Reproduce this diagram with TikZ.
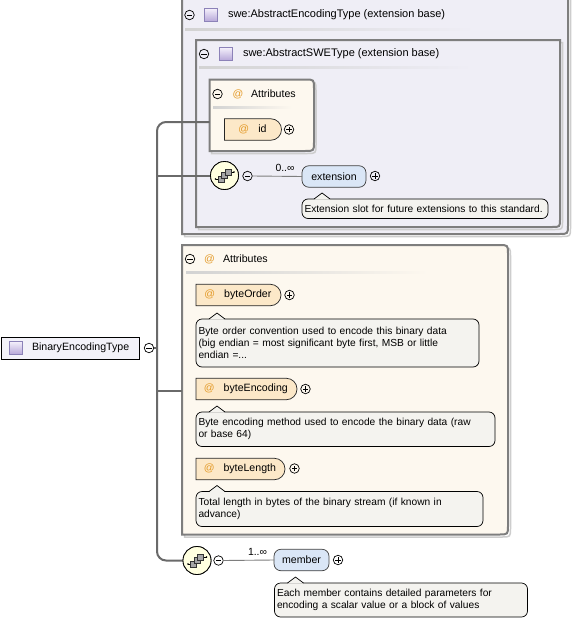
\documentclass[tikz,border=0pt]{standalone}
\usepackage{fontspec}
\setmainfont{Liberation Sans}
\usetikzlibrary{shapes.misc,calc}
\definecolor{lavbg}{HTML}{EFEEF6}
\definecolor{boxline}{HTML}{7E7E7E}
\definecolor{shadowc}{HTML}{CDCDCD}
\definecolor{creambg}{HTML}{FDF8EF}
\definecolor{attrfill}{HTML}{FCE8C8}
\definecolor{elemfill}{HTML}{DAE6F6}
\definecolor{comfill}{HTML}{F4F3EF}
\definecolor{seqfill}{HTML}{FFFFE0}
\definecolor{atcol}{HTML}{E49B2A}
\definecolor{lavlight}{HTML}{F4F0FB}
\definecolor{lavdark}{HTML}{B6A6D8}
\definecolor{lavedge}{HTML}{8C82B8}
\definecolor{trunkc}{HTML}{6A6A6A}
\definecolor{binfill}{HTML}{F3F2F9}
\newcommand\xBoxBR[6]{%
  \draw[#1] (#2,#3) -- (#4,#3) -- (#4,{#5-#6}) .. controls (#4,#5) .. ({#4-#6},#5) -- (#2,#5) -- cycle;}
\newcommand\xBoxR[6]{%
  \draw[#1] (#2,#3) -- ({#4-#6},#3) .. controls (#4,#3) .. (#4,{#3+#6}) -- (#4,{#5-#6}) .. controls (#4,#5) .. ({#4-#6},#5) -- (#2,#5) -- cycle;}
\newcommand\xSepW[4]{%
  \shade[left color=gray!35, middle color=gray!75, right color=#4] (#1,{#2-1}) rectangle (#3,{#2+1});}
\newcommand\xPointer[2]{% node, x offset
  \fill[comfill] ($(#1.north west)+(#2-8,0.6)$) -- ($(#1.north west)+(#2,-6)$) -- ($(#1.north west)+(#2+8,0.6)$) -- cycle;
  \draw[black, line width=0.7pt, line join=round] ($(#1.north west)+(#2-8,0)$) -- ($(#1.north west)+(#2,-6)$) -- ($(#1.north west)+(#2+8,0)$);}
\newcommand\xSeqIcon[1]{%
  \begin{scope}[shift={(#1.center)}]
    \draw[black, line width=0.8pt] (-9,3.5) -- (-4,3.5);
    \draw[black, line width=0.8pt] (4,-3.5) -- (9.5,-3.5);
    \fill[black] (-9,3.5) circle (0.9);
    \fill[black] (9.5,-3.5) circle (0.9);
    \draw[black!80, fill=gray!70, line width=0.5pt] (-6.5,0.5) rectangle (-0.5,6.5);
    \draw[black!80, fill=gray!70, line width=0.5pt] (-3,-3) rectangle (3,3);
    \draw[black!80, fill=gray!70, line width=0.5pt] (0.5,-6.5) rectangle (6.5,-0.5);
  \end{scope}}
\begin{document}
\begin{tikzpicture}[x=1pt,y=-1pt,
  font=\fontsize{10.6}{12.5}\selectfont,
  every node/.style={inner sep=0pt, outer sep=0pt},
  hdr/.style={anchor=west, font=\fontsize{11}{13}\selectfont},
  txt/.style={anchor=west},
  minusc/.style={circle, draw=black, line width=0.7pt, minimum size=9.5pt,
    path picture={\draw[line width=0.8pt] ([xshift=-2.6pt]path picture bounding box.center) -- ([xshift=2.6pt]path picture bounding box.center);}},
  plusc/.style={circle, draw=black, line width=0.7pt, minimum size=9.5pt,
    path picture={\draw[line width=0.8pt] ([xshift=-2.6pt]path picture bounding box.center) -- ([xshift=2.6pt]path picture bounding box.center)
      ([yshift=-2.6pt]path picture bounding box.center) -- ([yshift=2.6pt]path picture bounding box.center);}},
  sqicon/.style={rectangle, minimum size=13pt, draw=lavedge, line width=0.6pt, top color=lavlight, bottom color=lavdark},
  attrnode/.style={rounded rectangle, rounded rectangle west arc=none, draw=black!85, line width=0.7pt,
    fill=attrfill, minimum height=21.5pt},
  elemnode/.style={rectangle, rounded corners=7pt, draw=black!75, line width=0.7pt, fill=elemfill, minimum height=21.5pt},
  comnode/.style={rectangle, rounded corners=6pt, draw=black, line width=0.7pt, fill=comfill, align=left,
    anchor=north west, inner xsep=2.5pt, inner ysep=0pt, font=\fontsize{10.2}{12.2}\selectfont},
  seqnode/.style={circle, draw=black, line width=0.8pt, fill=seqfill, minimum size=28pt},
  trunk/.style={draw=trunkc, line width=2pt},
  thinconn/.style={draw=boxline, line width=0.9pt},
  card/.style={font=\fontsize{10.4}{12}\selectfont}
]
\useasboundingbox (0,0) rectangle (571,621);
\fill[white] (0,0) rectangle (571,621);

% ---------- outer box: swe:AbstractEncodingType ----------
\xBoxBR{shadowc, line width=1.5pt}{184.5}{-5}{570.5}{236.5}{9}
\xBoxBR{boxline, line width=2pt, fill=lavbg}{182}{-5}{568}{234}{9}
\node[minusc] (mo) at (189.5,15) {};
\node[sqicon] (so) at (211,15) {};
\node[hdr] (ho) at (228,15) {swe:AbstractEncodingType (extension base)};
\xSepW{185}{29}{475}{lavbg}

% ---------- inner box: swe:AbstractSWEType ----------
\xBoxBR{shadowc, line width=1.5pt}{198.5}{42.5}{562.5}{229.5}{8}
\xBoxBR{boxline, line width=2pt, fill=lavbg}{196}{40}{560}{227}{8}
\node[minusc] (mi) at (204,54) {};
\node[sqicon] (si) at (226,54) {};
\node[hdr] (hi) at (243,54) {swe:AbstractSWEType (extension base)};
\xSepW{199}{67}{472}{lavbg}

% ---------- attributes box 1 ----------
\xBoxR{shadowc, line width=1.5pt}{211.5}{81.5}{316}{153.5}{9}
\xBoxR{boxline, line width=2pt, fill=creambg}{209.5}{79.5}{314}{151}{9}
\node[minusc] (ma1) at (217.5,94) {};
\node[txt, text=atcol] (at1) at (232.5,94) {@};
\node[txt] (ha1) at (251,94) {Attributes};
\xSepW{213}{107}{292}{creambg}

% ---------- attributes box 2 ----------
\xBoxR{shadowc, line width=1.5pt}{184.5}{247.5}{510.5}{537}{9}
\xBoxR{boxline, line width=2pt, fill=creambg}{182}{245}{508}{534.5}{9}
\node[minusc] (ma2) at (190,259) {};
\node[txt, text=atcol] (at2) at (204,259) {@};
\node[txt] (ha2) at (223,259) {Attributes};
\xSepW{186}{272}{428}{creambg}

% ---------- root ----------
\node[rectangle, draw=black, line width=0.8pt, fill=binfill, minimum width=138pt, minimum height=22pt]
  (root) at (70,348) {};
\node[sqicon] (sr) at (15.5,348) {};
\node[txt] (rt) at (32,348) {BinaryEncodingType};
\node[minusc] (m0) at (149,348) {};

% ---------- trunk connectors ----------
\coordinate (tr) at (157,348);
\coordinate (a1in) at (209.5,122);
\coordinate (a2in) at (182,391);
\node[seqnode] (seq1) at (224.5,175.5) {};
\node[seqnode] (seq2) at (197,560.5) {};
\draw[trunk] (m0.east) -- (tr);
\draw[trunk, rounded corners=9pt] (tr) |- (a1in);
\draw[trunk, rounded corners=9pt] (tr) |- (seq2.west);
\draw[trunk] (tr |- seq1.west) -- (seq1.west);
\draw[trunk] (tr |- a2in) -- (a2in);
\node[seqnode] at (seq1) {};
\node[seqnode] at (seq2) {};
\xSeqIcon{seq1}
\xSeqIcon{seq2}

% ---------- id ----------
\node[attrnode, minimum width=57pt] (idn) at (252.5,129.5) {\textcolor{atcol}{@}\hspace{9pt}id\hspace{5pt}};
\node[plusc] (pid) at (289,129.5) {};

% ---------- extension ----------
\node[minusc] (ms1) at (247.5,176) {};
\node[elemnode, minimum width=64pt] (ext) at (334,176.5) {extension};
\node[plusc] (pext) at (375,176) {};
\draw[thinconn] (ms1.east) -- (ext.west);
\node[card] (c1) at (285,168) {0..∞};
\node[comnode, text width=241pt, minimum height=19.5pt] (cm1) at (302,199)
  {Extension slot for future extensions to this standard.};
\xPointer{cm1}{20}

% ---------- byteOrder ----------
\node[attrnode, minimum width=85pt, anchor=west] (bo) at (196,295) {\textcolor{atcol}{@}\hspace{9pt}byteOrder\hspace{2pt}};
\node[plusc] (pbo) at (289.5,295) {};
\node[comnode, text width=278pt, minimum height=48pt] (cm2) at (196,319)
  {Byte order convention used to encode this binary data\\(big endian = most significant byte first, MSB or little\\endian =...};
\xPointer{cm2}{21}

% ---------- byteEncoding ----------
\node[attrnode, minimum width=101pt, anchor=west] (be) at (196,389) {\textcolor{atcol}{@}\hspace{9pt}byteEncoding\hspace{2pt}};
\node[plusc] (pbe) at (305.5,389) {};
\node[comnode, text width=294pt, minimum height=34.5pt] (cm3) at (196,412)
  {Byte encoding method used to encode the binary data (raw\\or base 64)};
\xPointer{cm3}{21}

% ---------- byteLength ----------
\node[attrnode, minimum width=89pt, anchor=west] (bl) at (196,469) {\textcolor{atcol}{@}\hspace{9pt}byteLength\hspace{2pt}};
\node[plusc] (pbl) at (294.5,468.5) {};
\node[comnode, text width=282pt, minimum height=35pt] (cm4) at (196,491.5)
  {Total length in bytes of the binary stream (if known in\\advance)};
\xPointer{cm4}{21}

% ---------- member ----------
\node[minusc] (ms2) at (218.5,560.5) {};
\node[elemnode, minimum width=55pt] (mem) at (301.5,560) {member};
\node[plusc] (pmem) at (338,560) {};
\draw[thinconn] (ms2.east) -- (mem.west);
\node[card] (c2) at (257.5,552) {1..∞};
\node[comnode, text width=248pt, minimum height=34pt] (cm5) at (274.5,583)
  {Each member contains detailed parameters for\\encoding a scalar value or a block of values};
\xPointer{cm5}{21}
\end{tikzpicture}
\end{document}
